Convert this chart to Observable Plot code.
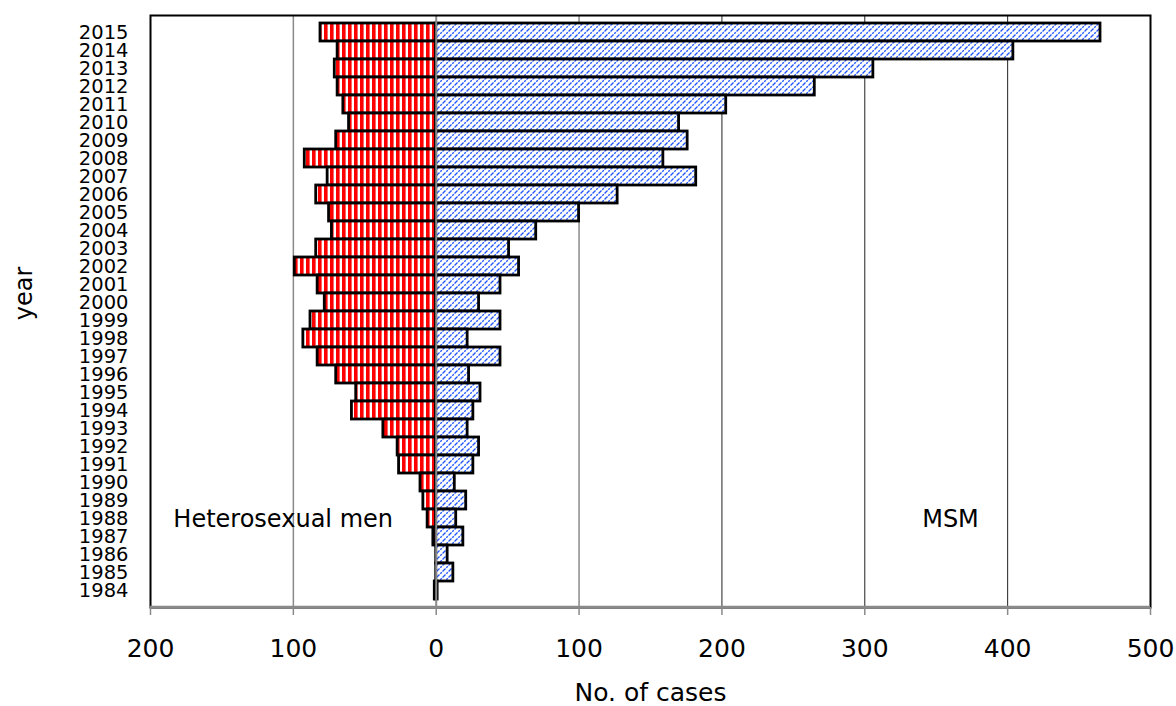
<!DOCTYPE html>
<html>
<head>
<meta charset="utf-8">
<script src="https://cdn.jsdelivr.net/npm/d3@7"></script>
<script src="https://cdn.jsdelivr.net/npm/@observablehq/plot@0.6"></script>
<style>
  html, body { margin: 0; padding: 0; background: #fff; }
  #chart svg { display: block; }
</style>
</head>
<body>
<div id="chart"></div>
<script>
// Data
const years = [2015, 2014, 2013, 2012, 2011, 2010, 2009, 2008, 2007, 2006, 2005, 2004, 2003, 2002, 2001, 2000,
               1999, 1998, 1997, 1996, 1995, 1994, 1993, 1992, 1991, 1990, 1989, 1988, 1987, 1986, 1985, 1984];
const heterosexualMen = [81, 69, 71, 69, 65, 61, 70, 92, 76, 84, 75, 73, 84, 99, 83, 78,
                         88, 93, 83, 70, 56, 59, 37, 27, 26, 11, 9, 6, 2, 0, 0, 1];
const msm = [465, 404, 306, 265, 203, 170, 176, 159, 182, 127, 100, 70, 51, 58, 45, 30,
             45, 22, 45, 23, 31, 26, 22, 30, 26, 13, 21, 14, 19, 8, 12, 1];
const xTicks = [-200, -100, 0, 100, 200, 300, 400, 500];
const greyGrid = [-100, 100];
const darkGrid = [200, 300, 400];
const seriesLabels = ["Heterosexual men", "MSM"];
const xLabel = "No. of cases";
const yLabel = "year";

const table = years.map((y, i) => ({year: y, het: heterosexualMen[i], msm: msm[i]}));

const font = "DejaVu Sans, Verdana, sans-serif";

const chart = Plot.plot({
  width: 1176,
  height: 706,
  marginTop: 15,
  marginLeft: 150,
  marginRight: 26,
  marginBottom: 99,
  style: {fontFamily: font, fontSize: "19px", color: "#000", background: "#fff"},
  x: {domain: [-200, 500], axis: null},
  y: {type: "band", domain: years, padding: 0, axis: null},
  marks: [
    Plot.ruleX(greyGrid, {stroke: "#8a8a8a", strokeWidth: 1.5}),
    Plot.ruleX(darkGrid, {stroke: "#222", strokeWidth: 1}),
    Plot.barX(table, {y: "year", x1: 0, x2: d => -d.het, fill: "url(#redStripes)", stroke: "#000", strokeWidth: 2.8, inset: 0}),
    Plot.barX(table, {y: "year", x1: 0, x2: "msm", fill: "url(#blueHatch)", stroke: "#000", strokeWidth: 2.8, inset: 0}),
    Plot.ruleX([0], {stroke: "#8a8a8a", strokeWidth: 2}),
    Plot.frame({stroke: "#000", strokeWidth: 2}),
    Plot.axisY({tickSize: 0, tickPadding: 22, fontSize: 19.5, label: null, tickFormat: d => String(d)}),
    Plot.axisX({ticks: xTicks, tickFormat: d => String(Math.abs(d)), tickSize: 8, tickPadding: 24, stroke: "#8a8a8a", strokeWidth: 1.5, fontSize: 25, label: null, anchor: "bottom"}),
    Plot.text([seriesLabels[0]], {x: [-184], y: [1988], textAnchor: "start", lineAnchor: "middle", fontSize: 24, dy: 1}),
    Plot.text([seriesLabels[1]], {x: [360], y: [1988], textAnchor: "middle", lineAnchor: "middle", fontSize: 24, dy: 1}),
    Plot.text([xLabel], {frameAnchor: "bottom", dy: 85, lineAnchor: "middle", textAnchor: "middle", fontSize: 25}),
    Plot.text([yLabel], {frameAnchor: "left", dx: -126, dy: -18, rotate: -90, textAnchor: "middle", lineAnchor: "middle", fontSize: 24})
  ]
});

// Patterns
const svg = d3.select(chart.tagName.toLowerCase() === "svg" ? chart : chart.querySelector("svg"));
const defs = svg.insert("defs", ":first-child");
const red = defs.append("pattern").attr("id", "redStripes").attr("patternUnits", "userSpaceOnUse")
  .attr("width", 6).attr("height", 6);
red.append("rect").attr("width", 6).attr("height", 6).attr("fill", "#fff");
red.append("rect").attr("x", 0).attr("width", 3.6).attr("height", 6).attr("fill", "#ff0000");
const blue = defs.append("pattern").attr("id", "blueHatch").attr("patternUnits", "userSpaceOnUse")
  .attr("width", 6).attr("height", 6);
blue.append("rect").attr("width", 6).attr("height", 6).attr("fill", "#fff");
blue.append("path").attr("d", "M-1,1 L1,-1 M0,6 L6,0 M5,7 L7,5")
  .attr("stroke", "#1f55ff").attr("stroke-width", 1.3).attr("stroke-dasharray", "2.2 1").attr("fill", "none");

// Bottom axis line in grey over the frame's bottom edge, from the library's scale
const sx = chart.scale("x");
const yb = 706 - 99;
svg.append("line")
  .attr("x1", sx.apply(-200)).attr("x2", sx.apply(500))
  .attr("y1", yb).attr("y2", yb)
  .attr("stroke", "#8a8a8a").attr("stroke-width", 2.5);

document.getElementById("chart").appendChild(chart);
</script>
</body>
</html>
